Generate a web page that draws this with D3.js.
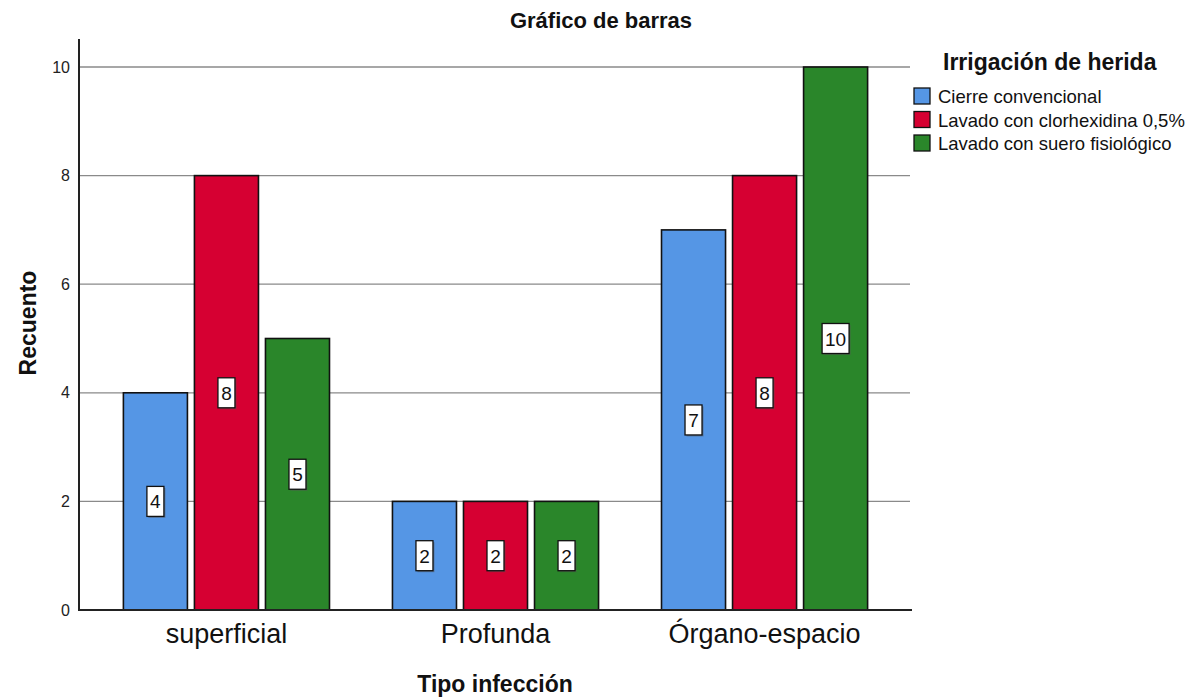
<!DOCTYPE html>
<html>
<head>
<meta charset="utf-8">
<script src="https://cdn.jsdelivr.net/npm/d3@7"></script>
<style>
  body { margin: 0; background: #fff; }
  text { font-family: Arial, "Liberation Sans", sans-serif; }
</style>
</head>
<body>
<div id="view"></div>
<script>
var categories = ["superficial", "Profunda", "Órgano-espacio"];
var series = ["Cierre convencional", "Lavado con clorhexidina 0,5%", "Lavado con suero fisiológico"];
var cierre = [4, 2, 7];
var clorhex = [8, 2, 8];
var suero = [5, 2, 10];
var yTicks = [0, 2, 4, 6, 8, 10];
var colors = ["#5596e5", "#d60032", "#2a862a"];

var values = [cierre, clorhex, suero];

var width = 1200, height = 698;
var margin = {top: 40, left: 79, right: 288, bottom: 88};

var svg = d3.select("#view")
    .append("svg")
    .attr("width", width)
    .attr("height", height);

var x0 = d3.scaleBand()
    .domain(categories)
    .range([margin.left, width - margin.right])
    .paddingInner(0.234)
    .paddingOuter(0.165);

var x1 = d3.scaleBand()
    .domain(series)
    .range([0, x0.bandwidth()])
    .paddingInner(0.0986);

var y = d3.scaleLinear()
    .domain([0, 10])
    .range([610, 67]);

// gridlines
svg.append("g")
    .selectAll("line")
    .data(yTicks.filter(function(d) { return d > 0; }))
    .enter().append("line")
    .attr("x1", margin.left)
    .attr("x2", 910)
    .attr("y1", function(d) { return y(d); })
    .attr("y2", function(d) { return y(d); })
    .attr("stroke", "#8a8a8a")
    .attr("stroke-width", 1.3);

// y axis
var yAxis = svg.append("g")
    .attr("transform", "translate(" + margin.left + ",0)")
    .call(d3.axisLeft(y).tickValues(yTicks).tickSize(0).tickPadding(9));
yAxis.select(".domain").remove();
yAxis.selectAll("text")
    .attr("font-size", 16)
    .attr("fill", "#222")
    .style("font-family", "Arial, 'Liberation Sans', sans-serif");

svg.append("line")
    .attr("x1", margin.left).attr("x2", margin.left)
    .attr("y1", 39).attr("y2", 611)
    .attr("stroke", "#222").attr("stroke-width", 2);

// bars
var groups = svg.append("g")
    .selectAll("g")
    .data(categories)
    .enter().append("g")
    .attr("transform", function(d) { return "translate(" + x0(d) + ",0)"; });

var bars = groups.selectAll("g.bar")
    .data(function(d, i) {
        return series.map(function(s, j) { return {s: s, j: j, v: values[j][i]}; });
    })
    .enter().append("g")
    .attr("class", "bar");

bars.append("rect")
    .attr("x", function(d) { return x1(d.s); })
    .attr("y", function(d) { return y(d.v); })
    .attr("width", x1.bandwidth())
    .attr("height", function(d) { return y(0) - y(d.v); })
    .attr("fill", function(d) { return colors[d.j]; })
    .attr("stroke", "#111")
    .attr("stroke-width", 1.6);

// value labels
bars.each(function(d) {
    var g = d3.select(this);
    var cx = x1(d.s) + x1.bandwidth() / 2;
    var cy = (y(d.v) + y(0)) / 2;
    var w = d.v >= 10 ? 27 : 17;
    g.append("rect")
        .attr("x", cx - w / 2 + 1.5)
        .attr("y", cy - 15 + 1.5)
        .attr("width", w)
        .attr("height", 30)
        .attr("fill", "#555")
        .attr("opacity", 0.5);
    g.append("rect")
        .attr("x", cx - w / 2)
        .attr("y", cy - 15)
        .attr("width", w)
        .attr("height", 30)
        .attr("fill", "#fff")
        .attr("stroke", "#111")
        .attr("stroke-width", 1.3);
    g.append("text")
        .attr("x", cx)
        .attr("y", cy + 7)
        .attr("text-anchor", "middle")
        .attr("font-size", 19)
        .attr("fill", "#111")
        .text(d.v);
});

// x axis line
svg.append("line")
    .attr("x1", margin.left).attr("x2", 912)
    .attr("y1", 610).attr("y2", 610)
    .attr("stroke", "#222").attr("stroke-width", 2);

// category labels
svg.append("g")
    .selectAll("text")
    .data(categories)
    .enter().append("text")
    .attr("x", function(d) { return x0(d) + x0.bandwidth() / 2; })
    .attr("y", 643)
    .attr("text-anchor", "middle")
    .attr("font-size", 27)
    .attr("fill", "#111")
    .text(function(d) { return d; });

// titles
svg.append("text")
    .attr("x", 601).attr("y", 28)
    .attr("text-anchor", "middle")
    .attr("font-size", 22).attr("font-weight", "bold")
    .attr("fill", "#111")
    .text("Gráfico de barras");

svg.append("text")
    .attr("x", 495).attr("y", 692)
    .attr("text-anchor", "middle")
    .attr("font-size", 23).attr("font-weight", "bold")
    .attr("fill", "#111")
    .text("Tipo infección");

svg.append("text")
    .attr("transform", "translate(36,323) rotate(-90)")
    .attr("text-anchor", "middle")
    .attr("font-size", 23).attr("font-weight", "bold")
    .attr("fill", "#111")
    .text("Recuento");

// legend
var legend = svg.append("g").attr("class", "legend");

legend.append("text")
    .attr("x", 943).attr("y", 70)
    .attr("font-size", 23).attr("font-weight", "bold")
    .attr("fill", "#111")
    .text("Irrigación de herida");

var item = legend.selectAll("g")
    .data(series)
    .enter().append("g")
    .attr("transform", function(d, i) { return "translate(914," + (88 + i * 23.5) + ")"; });

item.append("rect")
    .attr("width", 16).attr("height", 16)
    .attr("fill", function(d, i) { return colors[i]; })
    .attr("stroke", "#111").attr("stroke-width", 1.3);

item.append("text")
    .attr("x", 24).attr("y", 15)
    .attr("font-size", 18.5)
    .attr("fill", "#111")
    .text(function(d) { return d; });
</script>
</body>
</html>
